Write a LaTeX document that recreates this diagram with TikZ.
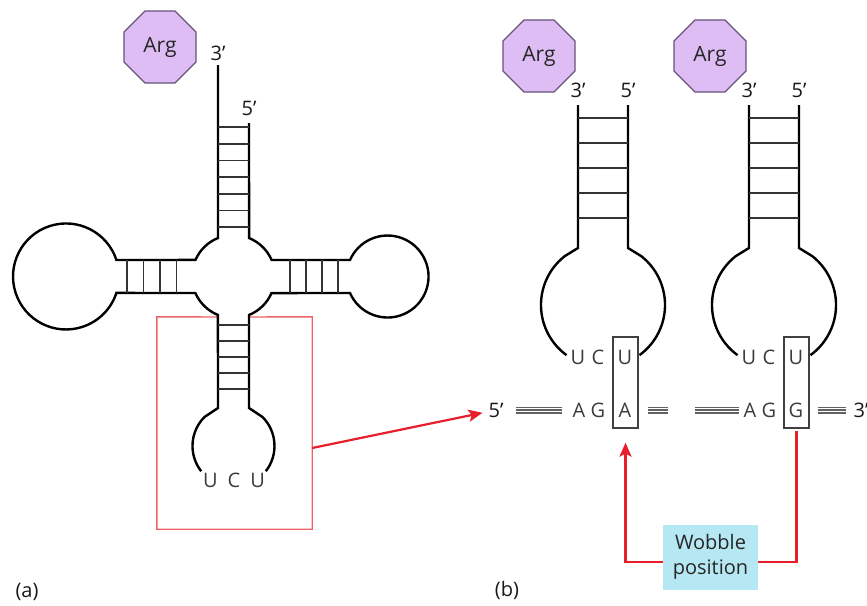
\documentclass[tikz,border=0pt]{standalone}
\usepackage{fontspec}
\setmainfont{Open Sans}
\usetikzlibrary{arrows.meta,positioning,shapes.geometric}
\definecolor{argfill}{RGB}{221,189,243}
\definecolor{argline}{RGB}{104,84,122}
\definecolor{wobfill}{RGB}{181,232,242}
\definecolor{arrred}{RGB}{232,30,42}
\definecolor{boxred}{RGB}{236,100,104}
\definecolor{basegray}{RGB}{60,60,60}

\begin{document}
\begin{tikzpicture}[x=1pt,y=-1pt,font=\fontsize{20}{24}\selectfont,
  >={Stealth[length=14pt,width=12pt,inset=3pt]},
  aa/.style={regular polygon,regular polygon sides=8,draw=argline,line width=1.2pt,fill=argfill,
    minimum size=78pt,inner sep=0pt,text=black!85,font=\fontsize{21}{24}\selectfont},
  strand/.style={line width=2.4pt},
  rung/.style={line width=1.6pt,draw=black!80},
  nt/.style={text=basegray,inner sep=1pt},
  endlbl/.style={text=black!90,inner sep=1pt},
  wbox/.style={draw=black!75,line width=1.3pt,minimum width=25pt,minimum height=91pt,inner sep=0pt},
  mrna/.style={draw=black!62,line width=7pt,postaction={draw=white,line width=3.2pt},
    postaction={draw=black!62,line width=1.8pt}},
  redline/.style={draw=arrred,line width=2.2pt},
  wob/.style={fill=wobfill,align=center,minimum width=95pt,minimum height=65pt,inner sep=2pt,
    text=black!85,font=\fontsize{20}{25}\selectfont}]
\useasboundingbox (0,0) rectangle (867,605);

% (a) cloverleaf
\node[minimum width=155pt,minimum height=212pt,inner sep=0pt] (sel) at (234.5,423) {};
\draw[boxred,line width=1.4pt] (218,317) -- (sel.north west) -- (sel.south west)
  -- (sel.south east) -- (sel.north east) -- (249,317);
\node[aa] (argA) at (160,47) {Arg};
\draw[strand] (218,65) -- (218,238) arc[start angle=-112,end angle=-156.5,radius=41.5]
  -- (116.4,260) arc[start angle=-18.1,end angle=-341.9,radius=53]
  -- (195.4,293) arc[start angle=156.5,end angle=112,radius=41.5]
  -- (218,408) -- (204.5,417) arc[start angle=-135,end angle=-218,radius=41];
\draw[strand] (265.8,471.2) arc[start angle=38,end angle=-45,radius=41] -- (249,408) -- (249,315)
  arc[start angle=68,end angle=23.5,radius=41.5] -- (350,293)
  arc[start angle=156.3,end angle=-156.3,radius=41] -- (271.6,260)
  arc[start angle=-23.5,end angle=-68,radius=41.5] -- (249,123);
\foreach \y in {127,143.7,160.3,177,193.7,210.3,227} \draw[rung] (218,\y) -- (249,\y);
\foreach \y in {325,341,357,373,389} \draw[rung] (218,\y) -- (249,\y);
\foreach \x in {127,143.5,160,176.5,290,306,322,338} \draw[rung] (\x,260) -- (\x,293);
\coordinate (a3) at (218,65);
\coordinate (a5) at (249,123);
\node[endlbl,above=3pt of a3] (a3l) {3’};
\node[endlbl,above=6pt of a5] (a5l) {5’};
\node[nt] (acA) at (234,480) {U\enspace C\enspace U};
\node[endlbl] (lblA) at (27,592) {(a)};

% (b) two tRNAs on the message
\foreach \dx/\k/\w in {0/1/A,171/2/G}{
  \node[aa] (arg\k) at (539+\dx,56) {Arg};
  \draw[strand] (578+\dx,105) -- (578+\dx,248) -- (564.8+\dx,256.1)
    arc[start angle=-128,end angle=-234,radius=62];
  \draw[strand] (628+\dx,105) -- (628+\dx,248) -- (641.2+\dx,256.1)
    arc[start angle=-52,end angle=54,radius=62];
  \foreach \y in {118,143,168,193,218} \draw[rung] (578+\dx,\y) -- (628+\dx,\y);
  \coordinate (t3\k) at (578+\dx,105);
  \coordinate (t5\k) at (628+\dx,105);
  \node[endlbl,above=6pt of t3\k] {3’};
  \node[endlbl,above=6pt of t5\k] {5’};
  \node[nt] (u1\k) at (578+\dx,357) {U};
  \node[nt] (c\k) at (598+\dx,357) {C};
  \node[nt] (u3\k) at (625+\dx,357) {U};
  \node[nt] (ca\k) at (579+\dx,410) {A};
  \node[nt] (cg\k) at (598+\dx,410) {G};
  \node[nt] (cw\k) at (625+\dx,410) {\w};
  \node[wbox] (wb\k) at (625.5+\dx,382.5) {};
}
\node[endlbl] (m5) at (496,410) {5’};
\node[endlbl] (m3) at (861,410) {3’};
\coordinate (gl) at (668,410);
\coordinate (gr) at (695,410);
\draw[mrna,shorten <=11pt,shorten >=9pt] (m5) -- (ca1);
\draw[mrna,shorten <=15pt] (cw1) -- (gl);
\draw[mrna,shorten >=3pt] (gr) -- (ca2);
\draw[mrna,shorten <=13.5pt,shorten >=6pt] (cw2) -- (m3);

\draw[redline,->,shorten >=5pt] ([yshift=-25pt]sel.east) -- (m5);
\node[wob] (wob) at (710.5,557) {Wobble\\position};
\draw[redline,->,shorten >=14pt] ([yshift=-5pt]wob.west) -| (wb1.south);
\draw[redline,shorten >=2pt] ([yshift=-5pt]wob.east) -| (wb2.south);
\node[endlbl] (lblB) at (507,590) {(b)};
\end{tikzpicture}
\end{document}
